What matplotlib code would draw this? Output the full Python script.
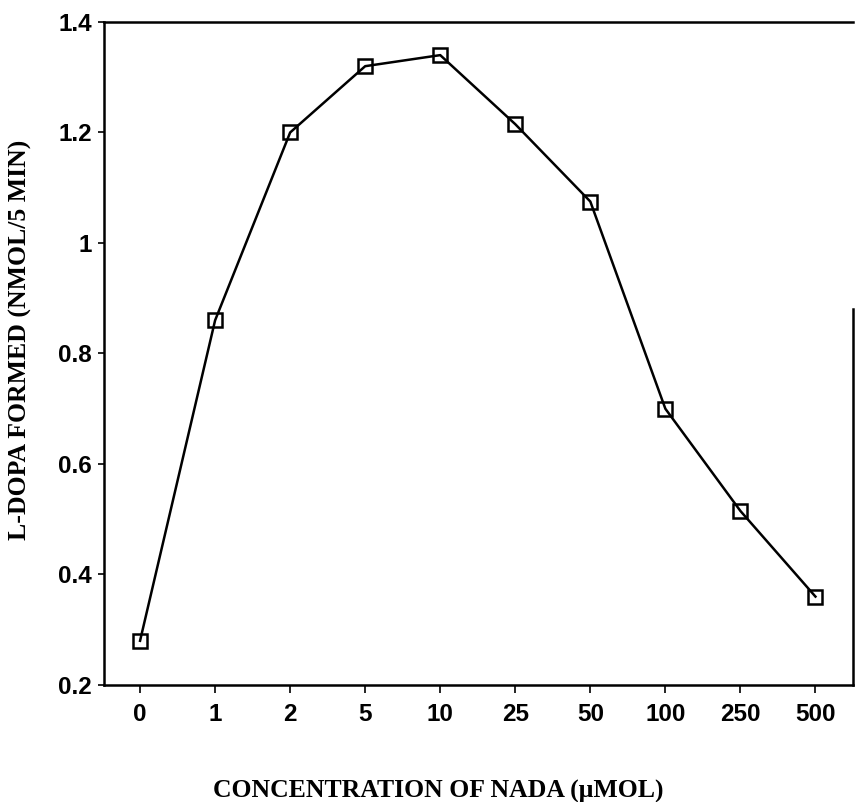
import matplotlib
matplotlib.use('Agg')
import matplotlib.pyplot as plt

# NADA concentrations (categorical axis) and L-DOPA formed
concentrations = ['0', '1', '2', '5', '10', '25', '50', '100', '250', '500']
ldopa = [0.28, 0.86, 1.20, 1.32, 1.34, 1.215, 1.075, 0.70, 0.515, 0.36]
y_ticks = [0.2, 0.4, 0.6, 0.8, 1.0, 1.2, 1.4]
y_tick_labels = ['0.2', '0.4', '0.6', '0.8', '1', '1.2', '1.4']

fig = plt.figure(figsize=(8.57, 8.02), dpi=100)
ax = fig.add_axes([0.1214, 0.1459, 0.8739, 0.8267])

pos = list(range(len(concentrations)))
ax.plot(pos, ldopa, color='black', linewidth=1.8, marker='s', markersize=10,
        markerfacecolor='none', markeredgecolor='black', markeredgewidth=1.8)

ax.set_xlim(-0.48, 9.5)
ax.set_ylim(0.2, 1.4)
ax.set_xticks(pos)
ax.set_xticklabels(concentrations)
ax.set_yticks(y_ticks)
ax.set_yticklabels(y_tick_labels)

for lab in ax.get_xticklabels() + ax.get_yticklabels():
    lab.set_family('Liberation Sans')
    lab.set_fontweight('bold')
    lab.set_fontsize(17.5)

ax.tick_params(axis='y', direction='out', length=4.5, width=1.2, pad=4)
ax.tick_params(axis='x', direction='out', length=6, width=1.2, pad=7)

for side in ['left', 'bottom', 'top', 'right']:
    ax.spines[side].set_linewidth(1.8)
ax.spines['right'].set_bounds(0.2, 0.88)

ax.set_xlabel('CONCENTRATION OF NADA (\u03bcMOL)', family='Liberation Serif',
              fontweight='bold', fontsize=18.5)
ax.set_ylabel('L-DOPA FORMED (NMOL/5 MIN)', family='Liberation Serif',
              fontweight='bold', fontsize=18.5)
ax.xaxis.set_label_coords(0.446, -0.143)
ax.yaxis.set_label_coords(-0.096, 0.52)

fig.savefig('out.png', dpi=100)
